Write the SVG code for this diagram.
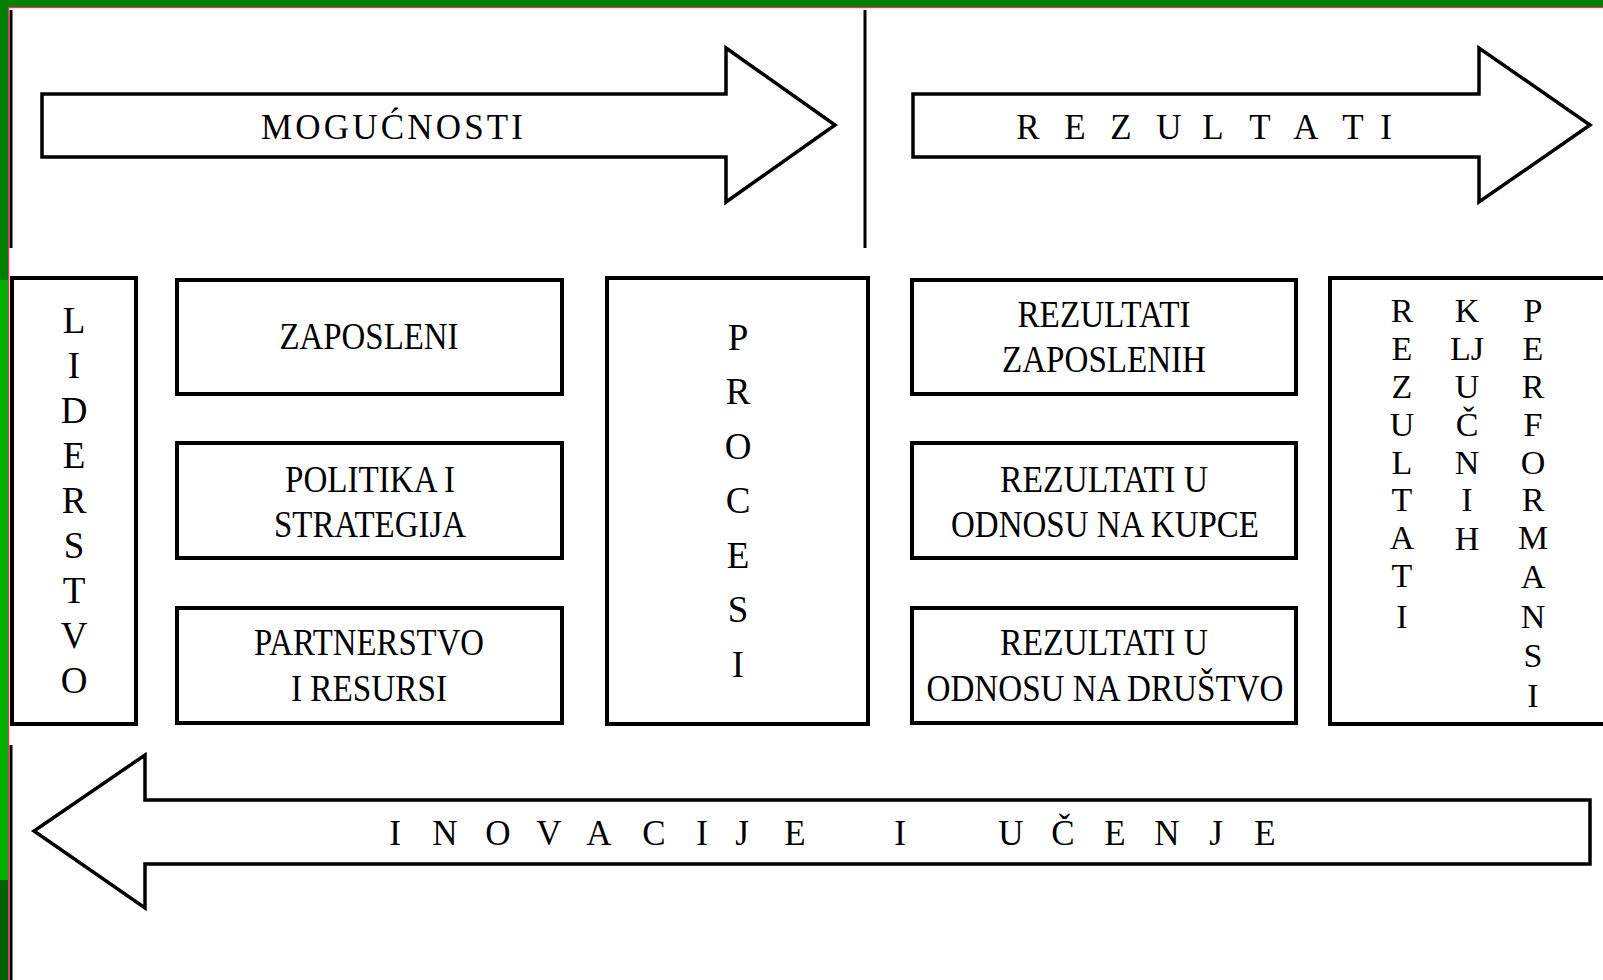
<svg xmlns="http://www.w3.org/2000/svg" width="1603" height="980" viewBox="0 0 1603 980">
<style>
.box{fill:#fff;stroke:#000;stroke-width:4}
.arr{fill:#fff;stroke:#000;stroke-width:3.5;stroke-linejoin:miter}
.t{font-family:"Liberation Serif","Times New Roman",serif;font-size:37px;fill:#000;text-anchor:middle}
.s{font-family:"Liberation Serif","Times New Roman",serif;font-size:35px;fill:#000;text-anchor:middle}
.k{font-family:"Liberation Serif","Times New Roman",serif;font-size:34px;fill:#000;text-anchor:middle}
.ln{stroke:#000;stroke-width:3;fill:none}
</style>
<rect width="1603" height="980" fill="#fff"/>
<!-- frame -->
<rect x="0" y="0" width="1603" height="7" fill="#008000"/>
<rect x="0" y="7" width="1603" height="1.2" fill="#ff2a6a"/>
<rect x="0" y="0" width="8" height="280" fill="#008000"/>
<rect x="0" y="280" width="8" height="600" fill="#00b000"/>
<rect x="0" y="880" width="8" height="100" fill="#006000"/>
<rect x="8" y="7" width="1.2" height="973" fill="#ff2a6a"/>

<g id="connectors">
<line class="ln" x1="11" y1="10" x2="11" y2="248"/>
<line class="ln" x1="11" y1="745" x2="11" y2="980"/>
<line class="ln" x1="865" y1="10" x2="865" y2="248"/>
</g>

<g id="arrow-mogucnosti">
<path class="arr" d="M42,94 H726 V48 L835,125 L726,202 V157 H42 Z"/>
<text class="s" x="392" y="139" textLength="262" lengthAdjust="spacing" style="text-anchor:middle">MOGUĆNOSTI</text>
</g>

<g id="arrow-rezultati">
<path class="arr" d="M913,94 H1479 V48 L1590,125 L1479,202 V157 H913 Z"/>
<text class="s" y="139" x="1028 1075 1121 1169 1213 1260 1306 1353 1386">REZULTATI</text>
</g>

<g id="arrow-inovacije">
<path class="arr" d="M1590,800 H145 V755 L34,831 L145,908 V864 H1590 Z"/>
<text class="s" y="845" x="395 445 498 549 599 654 702 742 795 900 1011 1063 1115 1167 1216 1265">INOVACIJEIUČENJE</text>
</g>

<g id="liderstvo">
<rect class="box" x="12" y="278" width="124" height="446"/>
<text class="t" x="74" y="333">L</text>
<text class="t" x="74" y="378">I</text>
<text class="t" x="74" y="423">D</text>
<text class="t" x="74" y="468">E</text>
<text class="t" x="74" y="513">R</text>
<text class="t" x="74" y="558">S</text>
<text class="t" x="74" y="603">T</text>
<text class="t" x="74" y="648">V</text>
<text class="t" x="74" y="693">O</text>
</g>

<g id="zaposleni">
<rect class="box" x="177" y="280" width="385" height="114"/>
<text class="t" x="369" y="349" textLength="179" lengthAdjust="spacingAndGlyphs">ZAPOSLENI</text>
</g>

<g id="politika">
<rect class="box" x="177" y="443" width="385" height="115"/>
<text class="t" x="370" y="492" textLength="170" lengthAdjust="spacingAndGlyphs">POLITIKA I</text>
<text class="t" x="370" y="537" textLength="192" lengthAdjust="spacingAndGlyphs">STRATEGIJA</text>
</g>

<g id="partnerstvo">
<rect class="box" x="177" y="608" width="385" height="115"/>
<text class="t" x="369" y="655" textLength="230" lengthAdjust="spacingAndGlyphs">PARTNERSTVO</text>
<text class="t" x="369" y="701" textLength="156" lengthAdjust="spacingAndGlyphs">I RESURSI</text>
</g>

<g id="procesi">
<rect class="box" x="607" y="278" width="261" height="446"/>
<text class="t" x="738" y="350">P</text>
<text class="t" x="738" y="404">R</text>
<text class="t" x="738" y="459">O</text>
<text class="t" x="738" y="513">C</text>
<text class="t" x="738" y="568">E</text>
<text class="t" x="738" y="622">S</text>
<text class="t" x="738" y="677">I</text>
</g>

<g id="rezultati-zaposlenih">
<rect class="box" x="912" y="280" width="384" height="114"/>
<text class="t" x="1104" y="327" textLength="173" lengthAdjust="spacingAndGlyphs">REZULTATI</text>
<text class="t" x="1104" y="372" textLength="204" lengthAdjust="spacingAndGlyphs">ZAPOSLENIH</text>
</g>

<g id="rezultati-kupci">
<rect class="box" x="912" y="443" width="384" height="115"/>
<text class="t" x="1104" y="492" textLength="208" lengthAdjust="spacingAndGlyphs">REZULTATI U</text>
<text class="t" x="1105" y="537" textLength="308" lengthAdjust="spacingAndGlyphs">ODNOSU NA KUPCE</text>
</g>

<g id="rezultati-drustvo">
<rect class="box" x="912" y="608" width="384" height="115"/>
<text class="t" x="1104" y="655" textLength="208" lengthAdjust="spacingAndGlyphs">REZULTATI U</text>
<text class="t" x="1105" y="701" textLength="357" lengthAdjust="spacingAndGlyphs">ODNOSU NA DRUŠTVO</text>
</g>

<g id="kpi">
<rect class="box" x="1330" y="278" width="400" height="446"/>
<text class="k" x="1402" y="322">R</text>
<text class="k" x="1402" y="360">E</text>
<text class="k" x="1402" y="398">Z</text>
<text class="k" x="1402" y="436">U</text>
<text class="k" x="1402" y="474">L</text>
<text class="k" x="1402" y="511">T</text>
<text class="k" x="1402" y="549">A</text>
<text class="k" x="1402" y="587">T</text>
<text class="k" x="1402" y="628">I</text>
<text class="k" x="1467" y="322">K</text>
<text class="k" x="1467" y="360">LJ</text>
<text class="k" x="1467" y="398">U</text>
<text class="k" x="1467" y="436">Č</text>
<text class="k" x="1467" y="474">N</text>
<text class="k" x="1467" y="511">I</text>
<text class="k" x="1467" y="550">H</text>
<text class="k" x="1533" y="322">P</text>
<text class="k" x="1533" y="360">E</text>
<text class="k" x="1533" y="398">R</text>
<text class="k" x="1533" y="436">F</text>
<text class="k" x="1533" y="474">O</text>
<text class="k" x="1533" y="511">R</text>
<text class="k" x="1533" y="549">M</text>
<text class="k" x="1533" y="588">A</text>
<text class="k" x="1533" y="628">N</text>
<text class="k" x="1533" y="667">S</text>
<text class="k" x="1533" y="707">I</text>
</g>
</svg>
